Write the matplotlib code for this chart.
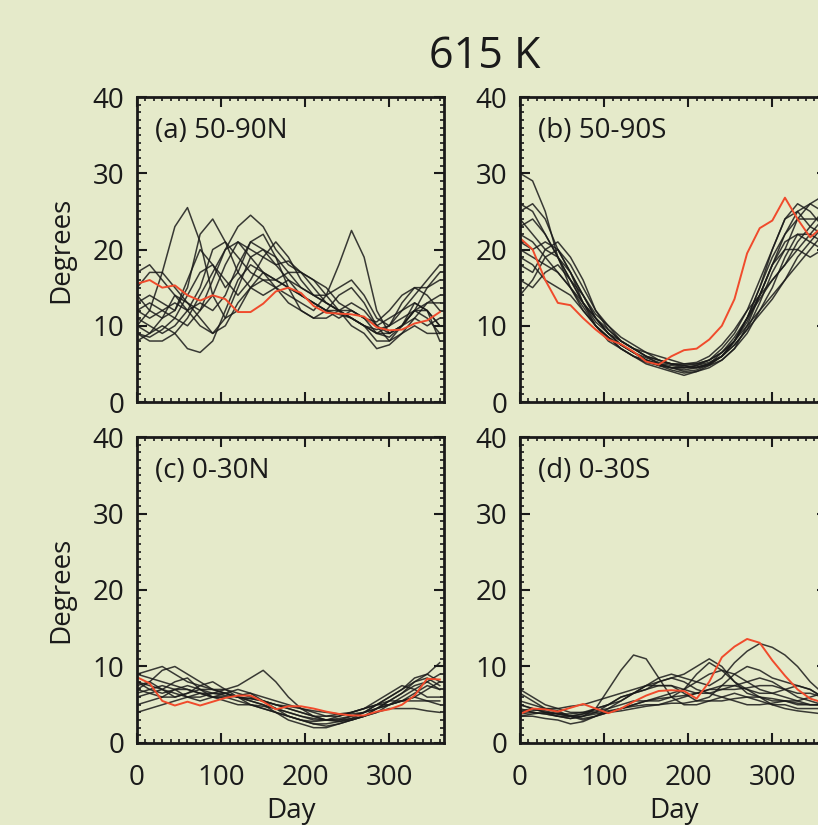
import matplotlib
matplotlib.use("Agg")
import matplotlib.pyplot as plt
from matplotlib.ticker import MultipleLocator

plt.rcParams['font.family'] = ['Open Sans', 'DejaVu Sans']

# day of year, every 15 days
days = [0, 15, 30, 45, 60, 75, 90, 105, 120, 135, 150, 165, 180,
        195, 210, 225, 240, 255, 270, 285, 300, 315, 330, 345, 360]

# (a) 50-90N
a_black = [
    [10, 12, 17, 23, 25.5, 21, 14, 11, 12, 15, 17, 16, 15, 14, 13, 12, 11.5, 11, 10, 9, 10, 12, 13, 12, 10],
    [13, 14, 13, 12, 15, 22, 24, 21, 17, 15, 14, 15, 16, 15, 14, 13, 12, 11, 10, 9.5, 10, 13, 15, 14, 12],
    [9, 8, 8, 9, 11, 14, 17, 20, 21, 19, 17, 15, 14, 13, 12, 14, 18, 22.5, 19, 12, 9, 10, 12, 13, 14],
    [12, 13, 12, 11, 10, 12, 16, 20, 23, 24.5, 23, 20, 18, 17, 15, 13, 12, 11, 10, 9, 9, 10, 12, 15, 17],
    [15, 17, 17, 15, 13, 12, 14, 18, 21, 20, 19, 18, 18.5, 17, 16, 15, 13, 12, 11, 10.5, 12, 14, 15, 15, 16],
    [11, 10, 9, 10, 12, 13, 12, 14, 18, 21, 20, 18, 16, 14, 13, 12, 12, 13, 12, 10, 8, 9, 11, 13, 13],
    [8, 9, 10, 9, 7, 6.5, 8, 12, 16, 18, 17, 16, 15, 14, 13, 12, 11, 12, 11, 9, 8.5, 10, 12, 12, 10],
    [10, 9, 11, 14, 13, 11, 9, 11, 15, 19, 20, 19, 17, 15, 14, 14, 15, 16, 14, 11, 10, 11, 12, 11, 9],
    [17, 18, 16, 14, 12, 15, 20, 21, 19, 17, 16, 15, 13, 12, 11, 11, 12, 12, 11, 10, 11, 12, 14, 16, 18],
    [9, 8.5, 9.5, 11, 14, 17, 18, 16, 14, 16, 19, 21, 19, 16, 14, 13, 12, 11, 10, 8, 8, 10, 13, 12, 8],
    [14, 12, 11, 12, 16, 20, 18, 15, 17, 21, 22, 19, 15, 12, 11, 12, 14, 15, 13, 10, 9, 10, 11, 10, 11],
    [12, 11, 12, 13, 12, 10, 9, 10, 13, 15, 16, 16, 17, 17, 16, 14, 12, 10, 9, 7, 7.5, 9, 10, 9, 9],
]
a_red = [15.5, 16, 15, 15.3, 14, 13.3, 14, 13.5, 11.8, 11.8, 12.9, 14.5, 15,
         14.3, 12.6, 11.7, 11.6, 11.5, 11.2, 9.8, 9.4, 9.5, 10.3, 10.7, 11.8]

# (b) 50-90S
b_black = [
    [30, 29, 25, 19, 15, 12, 10, 8.5, 7, 6, 5.5, 5, 4.5, 4.5, 4.8, 5.5, 7, 9, 12, 16, 20, 24, 26, 25, 23],
    [25, 26, 24, 20, 17, 14, 11, 9, 7.5, 6.5, 5.5, 5, 4.8, 4.5, 4.5, 5, 6, 8, 11, 15, 19, 22, 25, 26, 27],
    [22, 21, 19, 20, 18, 15, 12, 10, 8, 7, 6, 5.5, 5, 5, 5.2, 6, 7.5, 9.5, 12, 14, 16, 18, 20, 22, 24],
    [18, 17, 20, 21, 19, 16, 12, 9.5, 8, 7, 6, 5, 4.5, 4, 4.2, 5, 6.5, 8.5, 11, 13.5, 16, 18, 21, 23, 25],
    [24, 22, 20, 19, 17, 13, 10, 8.5, 7.5, 6.5, 5.8, 5.2, 5, 4.8, 4.5, 4.8, 5.5, 7, 10, 14, 18, 21, 22, 21, 20],
    [16, 15, 17, 18, 16, 14, 11, 9, 7.5, 6.5, 5.5, 4.8, 4.2, 3.8, 4, 4.5, 5.5, 7, 9, 12, 15, 19, 22, 22, 21],
    [20, 19, 18, 17, 15, 13, 11, 9.5, 8, 7, 6.5, 6, 5.5, 5, 5, 5.5, 6.5, 8, 10, 12, 14, 16, 18, 20, 22],
    [23, 24, 22, 19, 16, 13, 10.5, 9, 7.5, 6.5, 5.5, 4.8, 4.5, 4.5, 4.8, 5.2, 6, 7.5, 9.5, 13, 17, 20, 24, 26, 25],
    [14, 16, 19, 17, 15, 12.5, 10, 8, 7, 6, 5, 4.5, 4, 3.5, 4, 4.8, 6, 8, 10.5, 14, 18, 20, 20, 19, 20],
    [21, 20, 21, 20, 17, 14, 11.5, 10, 8.5, 7.5, 6.5, 5.5, 5, 4.8, 5, 5.5, 6.5, 8, 11, 15, 20, 24, 25, 23, 22],
    [19, 18, 16, 15, 14, 12, 10, 8.5, 7, 6, 5.2, 4.8, 4.5, 4.2, 4.5, 5, 6, 7.5, 9.5, 11.5, 13.5, 16, 19, 21, 23],
    [26, 25, 22, 19, 16, 13, 11, 9, 8, 7, 6, 5.5, 5, 4.6, 4.6, 5, 6, 8, 11, 14, 18, 22, 24, 24, 24],
]
b_red = [21.5, 20, 16, 13, 12.7, 11, 9.5, 8.2, 7.6, 6.6, 5.3, 4.9, 6.0,
         6.8, 7.0, 8.2, 10, 13.5, 19.5, 22.8, 23.8, 26.8, 24, 21.6, 23]

# (c) 0-30N
c_black = [
    [9, 9.5, 10, 9, 8, 7.5, 7, 7, 7.5, 8.5, 9.5, 8, 6, 4.5, 3.5, 3, 3, 3.5, 4, 5, 6, 7, 8, 9, 10.5],
    [7, 8, 9.5, 10, 9, 8, 7, 6.5, 6, 5.5, 5, 4, 3, 2.5, 2, 2, 2.5, 3, 3.5, 4.5, 5.5, 6.5, 7.5, 8, 7],
    [8, 7, 6.5, 7, 7.5, 7, 6.5, 6.5, 6, 5.5, 5, 4.5, 4, 3.5, 3, 3, 3.2, 3.5, 4, 4.5, 5, 5.5, 6, 7, 8],
    [4, 4.5, 5, 5.5, 6, 6.5, 6.5, 6.2, 6, 5.8, 5.5, 5, 4.5, 4, 3.5, 3.5, 3.8, 4, 4.5, 5, 5.5, 5.5, 5.5, 5.5, 5.5],
    [6, 6.5, 7, 8, 8.5, 7, 6, 5.5, 5, 5, 4.5, 4, 3.5, 3, 2.5, 2.5, 2.8, 3.2, 4, 5, 6, 7, 8.5, 9, 8],
    [7.5, 8, 7, 6, 6.5, 7.5, 8, 7, 6, 5, 4.5, 4, 3.5, 3, 2.8, 3, 3.5, 4, 4.5, 5, 5, 5.5, 6, 5.5, 5],
    [5, 5.5, 6, 7, 7, 6.5, 6, 6, 6.2, 6.5, 6, 5.5, 5, 4.5, 4, 3.5, 3.5, 4, 4.5, 5.5, 6.5, 7.5, 7, 6, 6],
    [9, 8.5, 8, 7.5, 7, 6.5, 6, 6, 5.5, 5, 4.8, 4.5, 4, 3.5, 3.2, 3, 3, 3.2, 3.5, 4, 4.5, 4.5, 4.5, 4.2, 4],
    [6.5, 7, 7.5, 7, 6, 5.5, 6, 6.5, 7, 6.5, 5.5, 4.5, 3.5, 3, 2.5, 2.2, 2.5, 3, 3.5, 4, 5, 6, 7, 8, 9],
    [8, 7.5, 7, 6.5, 6, 6, 6.5, 7, 6.5, 6, 5.5, 5, 4.8, 4.5, 4.2, 4, 3.8, 3.8, 4, 4.5, 5, 5.5, 6.5, 7.5, 7],
    [7, 6.5, 6, 6, 6.5, 7, 7, 6.5, 6, 5.8, 5.5, 5, 4.5, 4, 3.5, 3, 2.8, 3, 3.5, 4.5, 5.5, 6.5, 8, 8.5, 7.5],
]
c_red = [8.6, 7.8, 5.5, 4.9, 5.4, 4.9, 5.4, 5.9, 6.2, 6.2, 5.4, 4.4, 4.8,
         4.8, 4.5, 4.1, 3.8, 3.6, 3.6, 4.1, 4.4, 5, 6.2, 8.4, 8.3]

# (d) 0-30S
d_black = [
    [5, 4.5, 4, 3.5, 3.2, 3.5, 4.5, 7, 9.5, 11.5, 11, 8.5, 6, 5, 5, 5.5, 6, 6.5, 6, 5.5, 5, 5, 4.5, 4.5, 4.5],
    [6.5, 5.5, 4.5, 4, 3.5, 3.8, 4.5, 5, 5.5, 6.5, 7.5, 8.5, 9, 8.5, 8, 7.5, 8.5, 10.5, 12, 13, 12.5, 11.5, 10, 8, 6.5],
    [4, 4.2, 4.5, 4.2, 3.5, 3, 3.5, 4.5, 5.5, 6.5, 7.5, 8, 8.5, 9, 10, 11, 10, 8, 6.5, 6, 5.5, 5.5, 5, 5, 5],
    [3.5, 3.5, 3.2, 3, 2.5, 2.8, 3.5, 4, 4.5, 5, 5.5, 6, 6.5, 7, 8, 9, 9.5, 9, 8, 7, 6.5, 6, 5.5, 6, 6.5],
    [5.5, 5, 4.5, 4.5, 4.8, 5, 5.5, 6, 6.5, 7, 7.5, 7.5, 7.5, 7, 6.5, 6.5, 7, 7.5, 8, 8.5, 8, 7, 6, 5.5, 5],
    [4.5, 4, 3.8, 3.5, 3.5, 3.8, 4, 4.2, 4.5, 4.8, 5, 5, 5.2, 5.2, 5.5, 5.5, 5.5, 5.8, 6, 6, 5.8, 5.5, 5.2, 5, 5],
    [3.8, 4, 3.8, 3.5, 3.2, 3.5, 4, 5, 6, 6.5, 7, 7.5, 7.5, 6.5, 5.5, 6, 7.5, 9, 10, 9.5, 8.5, 8, 7.5, 7, 6],
    [7, 6, 5, 4.5, 4, 4, 4.2, 4.5, 5, 5.5, 5.5, 5.5, 6, 7, 9, 10.5, 9.5, 8, 7, 6.5, 6.5, 7, 7.5, 7, 6],
    [4.2, 4.5, 4.2, 3.8, 3.5, 3.2, 3.5, 4, 4.5, 5, 5.5, 5.8, 6, 6.2, 6.5, 7, 7.5, 7.5, 7, 6, 5, 4.5, 4.2, 4, 3.8],
    [5, 4.5, 4, 3.8, 3.8, 4, 4.5, 5, 6, 6.5, 7, 8, 8.5, 8, 7, 6.5, 6, 5.5, 5, 5, 5.2, 5.5, 5.5, 5, 5],
    [3.5, 3.8, 4, 3.8, 3.5, 3.5, 3.8, 4, 4.2, 4.5, 4.8, 5, 5.5, 6, 6.5, 7, 7, 7, 7.2, 7.5, 7.5, 7, 6.5, 6.5, 6],
]
d_red = [3.8, 4.5, 4.4, 4.1, 4.6, 5.1, 4.5, 3.9, 4.5, 5.4, 6.2, 6.8, 6.9,
         6.8, 5.8, 8.0, 11.2, 12.6, 13.6, 13.1, 10.8, 8.8, 7.0, 5.8, 5.3]

labels = ["(a) 50-90N", "(b) 50-90S", "(c) 0-30N", "(d) 0-30S"]
blacks = [a_black, b_black, c_black, d_black]
reds = [a_red, b_red, c_red, d_red]

bg = '#e5eaca'
red = '#f04b2c'

fig = plt.figure(figsize=(8.18, 8.25), dpi=100, facecolor=bg)

# axes boxes (left, bottom, width, height); right column runs off the page
boxes = [
    [0.1675, 0.5127, 0.3753, 0.3697],
    [0.6357, 0.5127, 0.3753, 0.3697],
    [0.1675, 0.0994, 0.3753, 0.3709],
    [0.6357, 0.0994, 0.3753, 0.3709],
]

for i in range(4):
    ax = fig.add_axes(boxes[i])
    ax.set_facecolor(bg)
    for line in blacks[i]:
        ax.plot(days, line, color='#1a1a1a', lw=1.1, alpha=0.85,
                solid_joinstyle='round')
    ax.plot(days, reds[i], color=red, lw=1.4, solid_joinstyle='round')

    ax.set_xlim(0, 365)
    ax.set_ylim(0, 40)
    ax.xaxis.set_major_locator(MultipleLocator(100))
    ax.xaxis.set_minor_locator(MultipleLocator(10))
    ax.yaxis.set_major_locator(MultipleLocator(10))
    ax.yaxis.set_minor_locator(MultipleLocator(1))
    ax.tick_params(which='both', direction='in', top=True, right=True,
                   labelsize=20, colors='#1a1a1a')
    ax.tick_params(which='major', length=7, width=1.5)
    ax.tick_params(which='minor', length=3, width=1.2)
    ax.tick_params(axis='x', pad=15)
    ax.tick_params(axis='y', pad=9)
    for s in ax.spines.values():
        s.set_linewidth(2)
        s.set_color('#1a1a1a')

    ax.text(0.059, 0.89, labels[i], transform=ax.transAxes, fontsize=20,
            color='#1a1a1a', va='center', ha='left')

    if i % 2 == 0:
        ax.set_ylabel("Degrees", fontsize=20, color='#1a1a1a')
        ax.yaxis.set_label_coords(-0.20, 0.5)
    if i >= 2:
        ax.set_xlabel("Day", fontsize=20, color='#1a1a1a')
        ax.xaxis.set_label_coords(0.5, -0.178)
    else:
        ax.set_xticklabels([])

fig.text(0.593, 0.931, "615 K", fontsize=31, color='#1a1a1a',
         ha='center', va='center')

plt.savefig("out.png", dpi=100, facecolor=bg)
